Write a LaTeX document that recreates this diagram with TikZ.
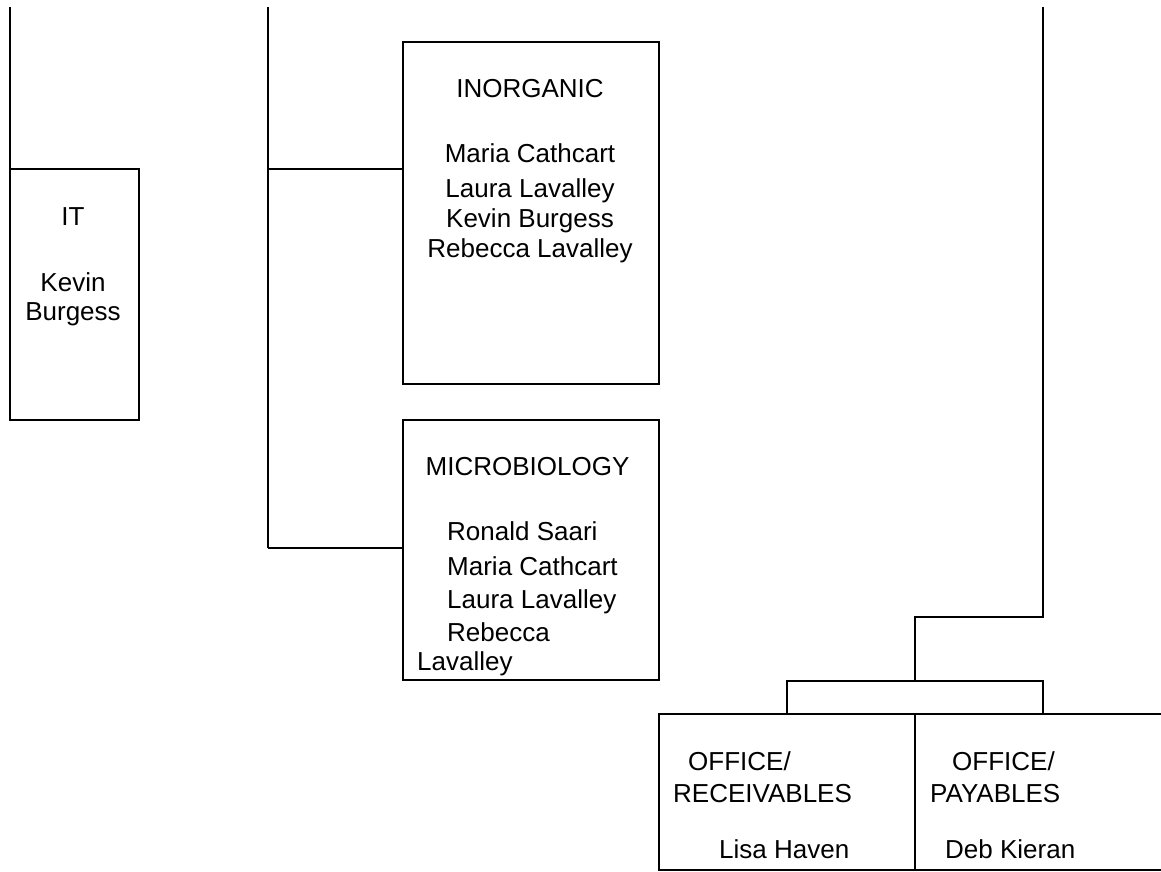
\documentclass[tikz,border=0pt]{standalone}
\usepackage{fontspec}
\setmainfont{Liberation Sans}
\begin{document}
\begin{tikzpicture}[x=1pt,y=-1pt,
  box/.style={draw=black,line width=2pt,rectangle,inner sep=0pt,outer sep=0pt,fill=none},
  conn/.style={draw=black,line width=2pt},
  lbl/.style={inner sep=0pt,font=\fontsize{26}{30}\selectfont},
  lblw/.style={lbl,anchor=base west},
  lblc/.style={lbl,anchor=base}]
\useasboundingbox (0,0) rectangle (1161,871);
% boxes
\node[box,minimum width=129pt,minimum height=251pt] (it) at (74.5,294.5) {};
\node[box,minimum width=256pt,minimum height=342pt] (inorg) at (531,213) {};
\node[box,minimum width=256pt,minimum height=260pt] (micro) at (531,550) {};
\node[box,minimum width=256pt,minimum height=156pt] (recv) at (787,792) {};
\node[box,minimum width=256pt,minimum height=156pt] (pay) at (1043,792) {};
% coordinates
\coordinate (t1) at (10,7);
\coordinate (t2) at (268,7);
\coordinate (j1) at (268,169);
\coordinate (j2) at (268,548);
\coordinate (t3) at (1043,7);
\coordinate (c2) at (915,617);
\coordinate (c3) at (915,681);
% connectors
\draw[conn] (t1) -- (it.north west);
\draw[conn] (t2) -- (j2);
\draw[conn] (j1) -- (j1 -| inorg.west);
\draw[conn] (j2) -- (j2 -| micro.west);
\draw[conn] (t3) |- (c2) -- (c3);
\draw[conn] (recv.north) |- (c3) -| (pay.north);
% texts
\node[lblc] (itT) at (73,225) {IT};
\node[lblc] (itA) at (73,291) {Kevin};
\node[lblc] (itB) at (73,320) {Burgess};
\node[lblc] (inT) at (530,97) {INORGANIC};
\node[lblc] (inA) at (530,162) {Maria Cathcart};
\node[lblc] (inB) at (530,197) {Laura Lavalley};
\node[lblc] (inC) at (530,227) {Kevin Burgess};
\node[lblc] (inD) at (530,257) {Rebecca Lavalley};
\node[lblc] (miT) at (527.5,475) {MICROBIOLOGY};
\node[lblw] (miA) at (447,540) {Ronald Saari};
\node[lblw] (miB) at (447,575) {Maria Cathcart};
\node[lblw] (miC) at (447,608) {Laura Lavalley};
\node[lblw] (miD) at (447,641) {Rebecca};
\node[lblw] (miE) at (417,670) {Lavalley};
\node[lblw] (reT) at (688,770) {OFFICE/};
\node[lblw] (reU) at (673,802) {RECEIVABLES};
\node[lblw] (reA) at (719,858) {Lisa Haven};
\node[lblw] (paT) at (952,770) {OFFICE/};
\node[lblw] (paU) at (930,802) {PAYABLES};
\node[lblw] (paA) at (945,858) {Deb Kieran};
\end{tikzpicture}
\end{document}
